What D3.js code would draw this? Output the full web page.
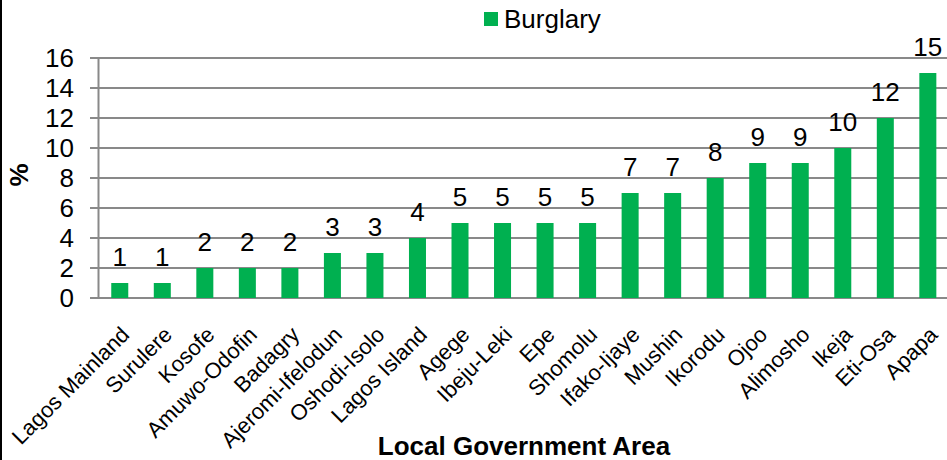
<!DOCTYPE html>
<html><head><meta charset="utf-8">
<script src="https://cdn.jsdelivr.net/npm/d3@7"></script>
<style>body{margin:0;background:#fff}svg{display:block;font-family:"Liberation Sans",Arial,sans-serif}</style>
</head><body>
<svg id="c" width="947" height="460"></svg>
<script>
const categories = ["Lagos Mainland","Surulere","Kosofe","Amuwo-Odofin","Badagry","Ajeromi-Ifelodun","Oshodi-Isolo","Lagos Island","Agege","Ibeju-Leki","Epe","Shomolu","Ifako-Ijaye","Mushin","Ikorodu","Ojoo","Alimosho","Ikeja","Eti-Osa","Apapa"];
const burglary = [1,1,2,2,2,3,3,4,5,5,5,5,7,7,8,9,9,10,12,15];
const yTicks = [0,2,4,6,8,10,12,14,16];
const seriesName = "Burglary";
const xTitle = "Local Government Area";
const yTitle = "%";

(function(){
const svg = d3.select("#c");
const plotLeft = 98.5, plotTop = 58, plotBottom = 298;
const step = 42.53;
const x = d3.scaleBand().domain(categories).range([plotLeft, plotLeft + step*categories.length]).paddingInner(0.6).paddingOuter(0.3);
const y = d3.scaleLinear().domain([0,16]).range([plotBottom, plotTop]);
const green = "#00b050", grid = "#898989";

// frame left edge
svg.append("line").attr("x1",1).attr("x2",1).attr("y1",0).attr("y2",460).attr("stroke","#000").attr("stroke-width",2);

// gridlines
svg.append("g").selectAll("line").data(yTicks).join("line")
  .attr("x1",90).attr("x2",947).attr("y1",d=>y(d)).attr("y2",d=>y(d))
  .attr("stroke",grid).attr("stroke-width",2);
// y axis line
svg.append("line").attr("x1",plotLeft).attr("x2",plotLeft).attr("y1",plotTop).attr("y2",plotBottom).attr("stroke",grid).attr("stroke-width",2);

// y tick labels
svg.append("g").selectAll("text").data(yTicks).join("text")
  .attr("x",74).attr("y",d=>y(d)).attr("dy","0.36em").attr("text-anchor","end")
  .attr("font-size",26).attr("fill","#000").text(d=>d);

// bars
svg.append("g").selectAll("rect").data(burglary).join("rect")
  .attr("x",(d,i)=>x(categories[i])).attr("width",x.bandwidth())
  .attr("y",d=>y(d)).attr("height",d=>plotBottom-y(d)).attr("fill",green);

// data labels
svg.append("g").selectAll("text").data(burglary).join("text")
  .attr("x",(d,i)=>x(categories[i])+x.bandwidth()/2).attr("y",d=>y(d)-17)
  .attr("text-anchor","middle").attr("font-size",26).attr("fill","#000").text(d=>d);

// x labels
svg.append("g").selectAll("text").data(categories).join("text")
  .attr("transform",d=>`translate(${x(d)+x.bandwidth()/2+11},336) rotate(-45)`)
  .attr("text-anchor","end").attr("font-size",22).attr("fill","#000").text(d=>d);

// axis titles
svg.append("text").attr("x",524).attr("y",455).attr("text-anchor","middle")
  .attr("font-size",26).attr("font-weight","bold").text(xTitle);
svg.append("text").attr("transform","translate(28,175) rotate(-90)").attr("text-anchor","middle")
  .attr("font-size",26).attr("font-weight","bold").text(yTitle);

// legend
svg.append("rect").attr("x",484).attr("y",12).attr("width",14).attr("height",14).attr("fill",green);
svg.append("text").attr("x",504).attr("y",28).attr("font-size",26).attr("fill","#000").text(seriesName);
})();
</script>
</body></html>
